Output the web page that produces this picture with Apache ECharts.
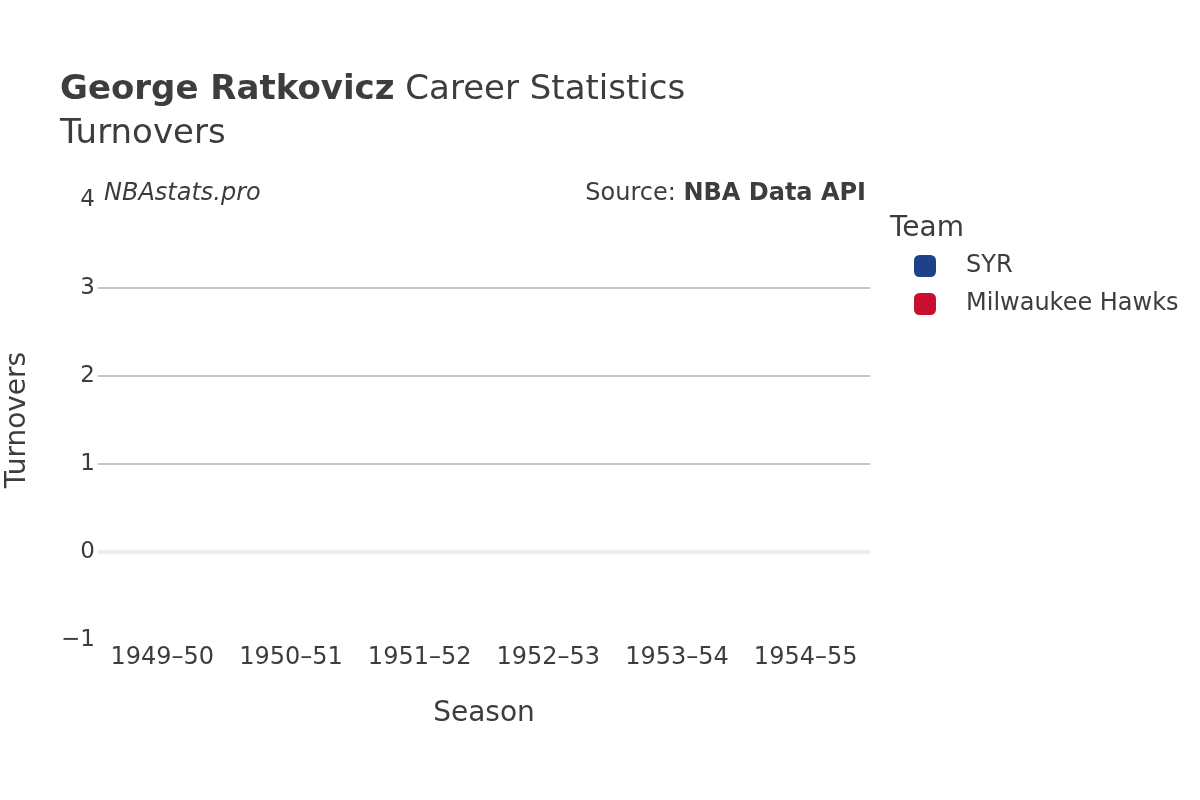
<!DOCTYPE html>
<html>
<head>
<meta charset="utf-8">
<script src="https://cdn.jsdelivr.net/npm/echarts@6/dist/echarts.min.js"></script>
<style>
  html, body { margin: 0; padding: 0; background: #fff; }
  #chart { width: 1200px; height: 800px; }
</style>
</head>
<body>
<div id="chart"></div>
<script>
// seasons on the x axis
const seasons = ["1949\u201350", "1950\u201351", "1951\u201352", "1952\u201353", "1953\u201354", "1954\u201355"]
// turnovers per season (not recorded in that era, so nothing is plotted)
const syrTurnovers = [null, null, null, null, null, null]
const hawksTurnovers = [null, null, null, null, null, null]
const teamNames = ["SYR", "Milwaukee Hawks"]
const teamColors = ["#1d428a", "#c8102e"]

const FONT = "DejaVu Sans"
const TEXT = "#3d3d3d"

var myChart = echarts.init(document.getElementById("chart"))

let option = {
  animation: false,
  textStyle: { fontFamily: FONT, color: TEXT },
  title: {
    left: 55,
    top: 65,
    text: "{b|George Ratkovicz} Career Statistics",
    subtext: "Turnovers",
    itemGap: 4,
    textStyle: {
      fontFamily: FONT, fontSize: 34, fontWeight: "normal", color: TEXT, lineHeight: 40,
      rich: { b: { fontFamily: FONT, fontSize: 34, fontWeight: "bold", color: TEXT, lineHeight: 40 } }
    },
    subtextStyle: { fontFamily: FONT, fontSize: 34, color: TEXT, lineHeight: 40 }
  },
  graphic: [
    {
      type: "text", left: 104, top: 192 - 10,
      style: { text: "NBAstats.pro", font: "italic 24px 'DejaVu Sans'", fill: TEXT }
    },
    {
      type: "text", right: 1200 - 866, top: 192 - 10,
      style: {
        text: "Source: {b|NBA Data API}",
        font: "24px 'DejaVu Sans'", fill: TEXT,
        rich: { b: { fontFamily: FONT, fontSize: 24, fontWeight: "bold", fill: TEXT } }
      }
    },
    {
      type: "text", left: 890, top: 227 - 12,
      style: { text: "Team", font: "28px 'DejaVu Sans'", fill: TEXT }
    }
  ],
  legend: {
    orient: "vertical",
    left: 914,
    top: 254,
    padding: 0,
    icon: "roundRect",
    itemWidth: 22,
    itemHeight: 22,
    itemGap: 14,
    data: teamNames,
    textStyle: { fontFamily: FONT, fontSize: 24, color: TEXT, padding: [0, 0, 0, 25] }
  },
  grid: { left: 98, right: 330, top: 200, bottom: 160, containLabel: false, outerBoundsMode: "none" },
  xAxis: {
    type: "category",
    data: seasons,
    boundaryGap: true,
    axisLine: { show: false },
    axisTick: { show: false },
    axisLabel: { fontFamily: FONT, fontSize: 24, color: TEXT, margin: 6, interval: 0 },
    name: "Season",
    nameLocation: "middle",
    nameGap: 60,
    nameTextStyle: { fontFamily: FONT, fontSize: 28, color: TEXT }
  },
  yAxis: {
    type: "value",
    min: -1,
    max: 4,
    interval: 1,
    axisLine: { show: false },
    axisTick: { show: false },
    axisLabel: {
      fontFamily: FONT, fontSize: 23, color: TEXT, margin: 3,
      formatter: (v) => String(v).replace("-", "\u2212")
    },
    splitLine: {
      lineStyle: {
        width: 2,
        color: ["rgba(0,0,0,0)", "rgba(0,0,0,0)", "#c4c4c4", "#c4c4c4", "#c4c4c4", "rgba(0,0,0,0)"]
      }
    },
    name: "Turnovers",
    nameLocation: "middle",
    nameGap: 66,
    nameTextStyle: { fontFamily: FONT, fontSize: 28, color: TEXT }
  },
  series: [
    {
      name: teamNames[0],
      type: "line",
      data: syrTurnovers,
      itemStyle: { color: teamColors[0] },
      lineStyle: { color: teamColors[0], width: 3 },
      markLine: {
        silent: true,
        symbol: "none",
        label: { show: false },
        lineStyle: { color: "#eeeeee", width: 4, type: "solid" },
        data: [{ yAxis: 0 }]
      }
    },
    {
      name: teamNames[1],
      type: "line",
      data: hawksTurnovers,
      itemStyle: { color: teamColors[1] },
      lineStyle: { color: teamColors[1], width: 3 }
    }
  ]
}

myChart.setOption(option)
</script>
</body>
</html>
